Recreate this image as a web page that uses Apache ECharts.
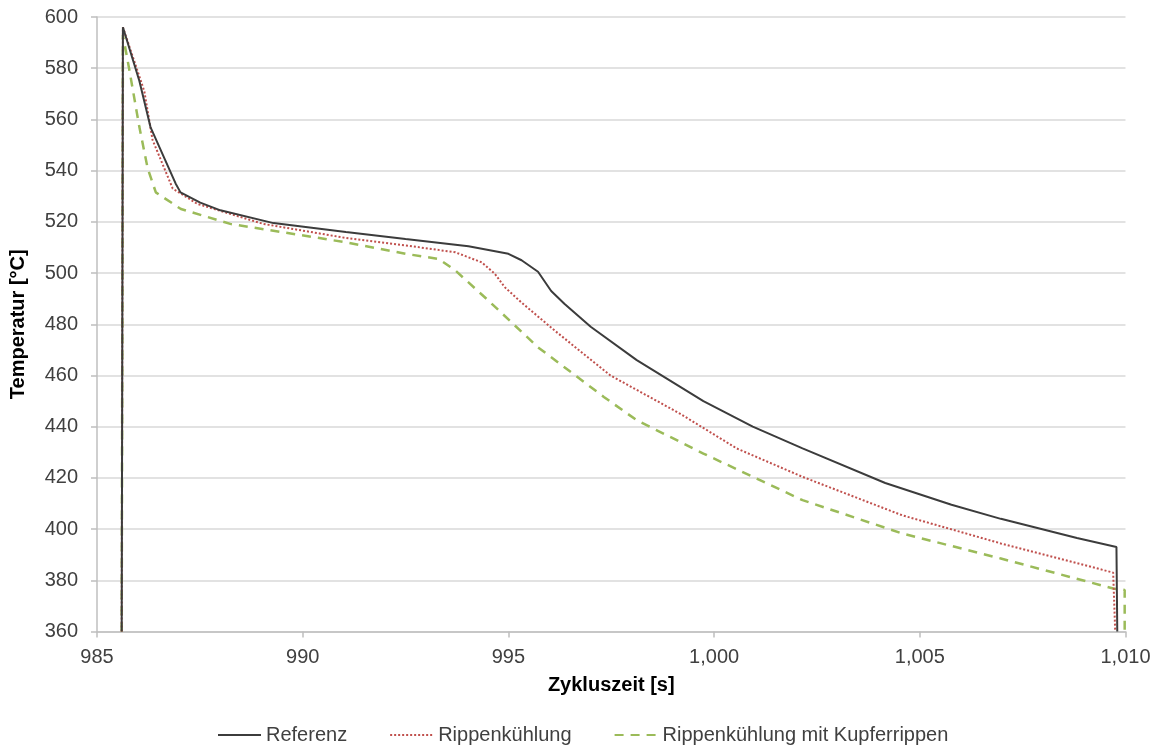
<!DOCTYPE html>
<html>
<head>
<meta charset="utf-8">
<script src="https://cdn.jsdelivr.net/npm/echarts@6/dist/echarts.min.js"></script>
<style>
  html, body { margin: 0; padding: 0; background: #fff; }
  #myChart { width: 1162px; height: 747px; }
</style>
</head>
<body>
<div id="myChart"></div>
<script>
// Referenz
var refX = [985.6, 985.63, 986.03, 986.3, 986.91, 987.03, 987.51, 988.0, 989.29, 991.05, 992.5, 994.03, 995.0, 995.32, 995.72, 996.04, 996.36, 997.0, 998.12, 999.74, 1000.94, 1002.15, 1004.16, 1005.77, 1006.97, 1008.82, 1009.78, 1009.8]
var refY = [360, 596, 575, 557, 535, 531.5, 527.5, 524.5, 519.5, 516, 513.3, 510.5, 507.5, 505, 500.5, 493, 488, 479, 466, 450, 440, 431.5, 418, 409.5, 404, 396.5, 393, 360]
// Rippenkühlung
var ripX = [985.6, 985.63, 986.15, 986.35, 986.84, 987.44, 989.04, 991.05, 992.5, 993.71, 994.35, 994.67, 994.91, 995.31, 996.12, 997.48, 999.18, 1000.55, 1002.15, 1004.57, 1006.97, 1008.08, 1009.7, 1009.75]
var ripY = [360, 596, 571, 552, 533, 527, 519.2, 513.7, 510.8, 508.1, 504.2, 499.7, 494.5, 488.6, 477.6, 460, 445, 431.5, 420.4, 405.4, 394.4, 389.8, 383, 360]
// Rippenkühlung mit Kupferrippen
var cuX = [985.6, 985.63, 985.79, 986.03, 986.23, 986.43, 987.04, 988.24, 991.05, 992.5, 993.31, 993.71, 994.51, 995.72, 997.32, 998.12, 999.74, 1002.15, 1004.57, 1006.97, 1009.7, 1009.98, 1009.98]
var cuY = [360, 593, 579, 557, 541, 531.5, 525, 519.2, 512, 507.5, 505.5, 501, 489.3, 471, 451.6, 442.5, 429.5, 411.3, 398.3, 388.5, 376.8, 376.2, 360]

var seriesNames = ['Referenz', 'Rippenkühlung', 'Rippenkühlung mit Kupferrippen']

function pairs(xs, ys) {
  var out = []
  for (var i = 0; i < xs.length; i++) out.push([xs[i], ys[i]])
  return out
}

var font = 'Liberation Sans, Arial, sans-serif'
var myChart = echarts.init(document.getElementById('myChart'))
myChart.setOption({
  animation: false,
  grid: { left: 89, right: 36.5, top: 17, bottom: 115.5 },
  legend: {
    data: seriesNames,
    left: 212,
    top: 720,
    itemWidth: 43,
    itemHeight: 14,
    itemGap: 42,
    itemStyle: { opacity: 0 },
    textStyle: { fontFamily: font, fontSize: 20, color: '#404040' },
  },
  xAxis: {
    type: 'value',
    min: 985,
    max: 1010,
    interval: 5,
    name: 'Zykluszeit [s]',
    nameLocation: 'middle',
    nameGap: 44,
    nameTextStyle: { fontFamily: font, fontSize: 20, fontWeight: 'bold', color: '#000' },
    axisLine: { show: true, lineStyle: { color: '#bfbfbf', width: 1.5 } },
    axisTick: { show: true, length: 6, lineStyle: { color: '#bfbfbf', width: 1.5 } },
    axisLabel: {
      margin: 16,
      fontFamily: font,
      fontSize: 20,
      color: '#404040',
      formatter: function (v) { return v.toLocaleString('en-US') },
    },
    splitLine: { show: false },
  },
  yAxis: {
    type: 'value',
    min: 360,
    max: 600,
    interval: 20,
    name: 'Temperatur [°C]',
    nameLocation: 'middle',
    nameGap: 69,
    nameTextStyle: { fontFamily: font, fontSize: 20, fontWeight: 'bold', color: '#000' },
    axisLine: { show: true, lineStyle: { color: '#bfbfbf', width: 1.5 } },
    axisTick: { show: true, length: 6, lineStyle: { color: '#bfbfbf', width: 1.5 } },
    axisLabel: { margin: 19, fontFamily: font, fontSize: 20, color: '#404040' },
    splitLine: { show: true, lineStyle: { color: '#d9d9d9', width: 1.5 } },
  },
  series: [
    {
      name: seriesNames[0],
      type: 'line',
      symbol: 'none',
      data: pairs(refX, refY),
      lineStyle: { color: '#3c3c3c', width: 2 },
      itemStyle: { color: '#3c3c3c' },
      z: 3,
    },
    {
      name: seriesNames[1],
      type: 'line',
      symbol: 'none',
      data: pairs(ripX, ripY),
      lineStyle: { color: '#c0504d', width: 2, type: [2, 2] },
      itemStyle: { color: '#c0504d' },
      z: 2,
    },
    {
      name: seriesNames[2],
      type: 'line',
      symbol: 'none',
      data: pairs(cuX, cuY),
      lineStyle: { color: '#9bbb59', width: 2.5, type: [9, 7] },
      itemStyle: { color: '#9bbb59' },
      z: 1,
    },
  ],
})
</script>
</body>
</html>
